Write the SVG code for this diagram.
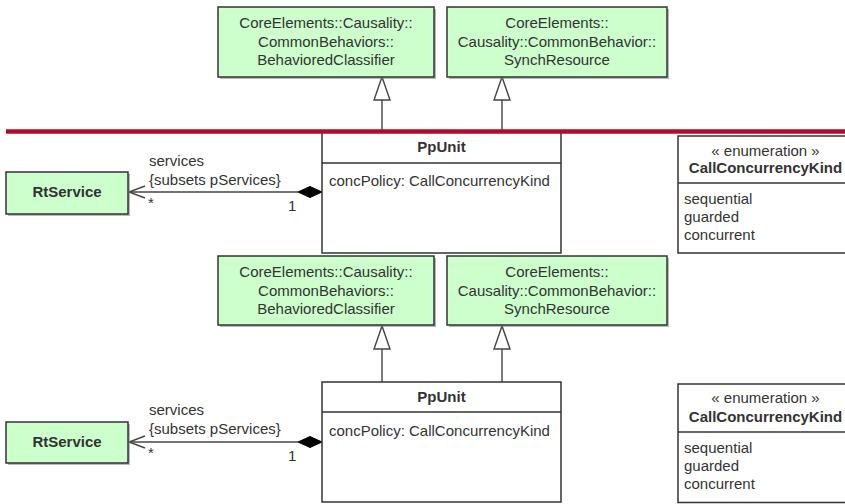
<svg xmlns="http://www.w3.org/2000/svg" width="845" height="504" viewBox="0 0 845 504">
<defs>
<style>
.t{font-family:"Liberation Sans",Arial,sans-serif;font-size:15px;fill:#333}
.b{font-weight:bold}
.m{text-anchor:middle}
.g{fill:#ccffcc;stroke:#333;stroke-width:1.5}
.sh{fill:#888;opacity:0.6}
.w{fill:#fff;stroke:#333;stroke-width:1.5}
.ln{fill:none;stroke:#444;stroke-width:1.4}
.tri{fill:#fff;stroke:#444;stroke-width:1.4}
.dia{fill:#000;stroke:#000;stroke-width:1}
</style>
</defs>
<rect width="845" height="504" fill="#fff"/>

<g id="connectors">
  <!-- top section -->
  <line class="ln" x1="382" y1="100" x2="382" y2="132"/>
  <polygon class="tri" points="382,77 374,100 390,100"/>
  <line class="ln" x1="502" y1="100" x2="502" y2="132"/>
  <polygon class="tri" points="502,77 494,100 510,100"/>
  <line class="ln" x1="129" y1="192" x2="298" y2="192"/>
  <polyline class="ln" points="145,186 129,192 145,198"/>
  <polygon class="dia" points="322,192 310,186.5 298,192 310,197.5"/>
  <text class="t" x="149" y="166">services</text>
  <text class="t" x="149" y="185">{subsets pServices}</text>
  <text class="t" x="148" y="208">*</text>
  <text class="t" x="288" y="211">1</text>
  <!-- bottom section -->
  <line class="ln" x1="382" y1="349" x2="382" y2="382"/>
  <polygon class="tri" points="382,326 374,349 390,349"/>
  <line class="ln" x1="502" y1="349" x2="502" y2="382"/>
  <polygon class="tri" points="502,326 494,349 510,349"/>
  <line class="ln" x1="129" y1="442" x2="298" y2="442"/>
  <polyline class="ln" points="145,436 129,442 145,448"/>
  <polygon class="dia" points="322,442 310,436.5 298,442 310,447.5"/>
  <text class="t" x="149" y="415">services</text>
  <text class="t" x="149" y="434">{subsets pServices}</text>
  <text class="t" x="148" y="458">*</text>
  <text class="t" x="288" y="461">1</text>
</g>

<g id="behavioredClassifier1">
  <rect class="sh" x="220" y="9" width="216" height="70"/>
  <rect class="g" x="218" y="7" width="216" height="70"/>
  <text class="t m" x="326" y="28">CoreElements::Causality::</text>
  <text class="t m" x="326" y="46.5">CommonBehaviors::</text>
  <text class="t m" x="326" y="65">BehavioredClassifier</text>
</g>
<g id="synchResource1">
  <rect class="sh" x="449" y="9" width="220" height="70"/>
  <rect class="g" x="447" y="7" width="220" height="70"/>
  <text class="t m" x="557" y="28">CoreElements::</text>
  <text class="t m" x="557" y="46.5">Causality::CommonBehavior::</text>
  <text class="t m" x="557" y="65">SynchResource</text>
</g>
<g id="ppUnit1">
  <rect class="w" x="322" y="132" width="239" height="121"/>
  <line class="ln" x1="322" y1="163" x2="561" y2="163" style="stroke:#333"/>
  <text class="t b m" x="441.5" y="152">PpUnit</text>
  <text class="t" x="329" y="186">concPolicy: CallConcurrencyKind</text>
</g>
<g id="rtService1">
  <rect class="sh" x="8" y="174" width="122" height="42"/>
  <rect class="g" x="6" y="172" width="122" height="42"/>
  <text class="t b m" x="67" y="197">RtService</text>
</g>
<g id="enum1">
  <rect class="w" x="678" y="136" width="175" height="117"/>
  <line class="ln" x1="678" y1="183" x2="845" y2="183" style="stroke:#333"/>
  <text class="t m" x="765.5" y="156">« enumeration »</text>
  <text class="t b m" x="765.5" y="173">CallConcurrencyKind</text>
  <text class="t" x="684" y="204">sequential</text>
  <text class="t" x="684" y="222">guarded</text>
  <text class="t" x="684" y="240">concurrent</text>
</g>

<g id="behavioredClassifier2">
  <rect class="sh" x="220" y="258" width="216" height="69"/>
  <rect class="g" x="218" y="256" width="216" height="69"/>
  <text class="t m" x="326" y="277">CoreElements::Causality::</text>
  <text class="t m" x="326" y="295.5">CommonBehaviors::</text>
  <text class="t m" x="326" y="314">BehavioredClassifier</text>
</g>
<g id="synchResource2">
  <rect class="sh" x="449" y="258" width="220" height="69"/>
  <rect class="g" x="447" y="256" width="220" height="69"/>
  <text class="t m" x="557" y="277">CoreElements::</text>
  <text class="t m" x="557" y="295.5">Causality::CommonBehavior::</text>
  <text class="t m" x="557" y="314">SynchResource</text>
</g>
<g id="ppUnit2">
  <rect class="w" x="322" y="382" width="239" height="120"/>
  <line class="ln" x1="322" y1="412" x2="561" y2="412" style="stroke:#333"/>
  <text class="t b m" x="441.5" y="402">PpUnit</text>
  <text class="t" x="329" y="436">concPolicy: CallConcurrencyKind</text>
</g>
<g id="rtService2">
  <rect class="sh" x="8" y="424" width="122" height="41"/>
  <rect class="g" x="6" y="422" width="122" height="41"/>
  <text class="t b m" x="67" y="447">RtService</text>
</g>
<g id="enum2">
  <rect class="w" x="678" y="384" width="175" height="118.5"/>
  <line class="ln" x1="678" y1="432" x2="845" y2="432" style="stroke:#333"/>
  <text class="t m" x="765.5" y="403">« enumeration »</text>
  <text class="t b m" x="765.5" y="422">CallConcurrencyKind</text>
  <text class="t" x="684" y="453">sequential</text>
  <text class="t" x="684" y="471">guarded</text>
  <text class="t" x="684" y="489">concurrent</text>
</g>

<line id="divider" x1="6" y1="131.5" x2="845" y2="131.5" stroke="#b00a2e" stroke-width="4.6"/>
</svg>
